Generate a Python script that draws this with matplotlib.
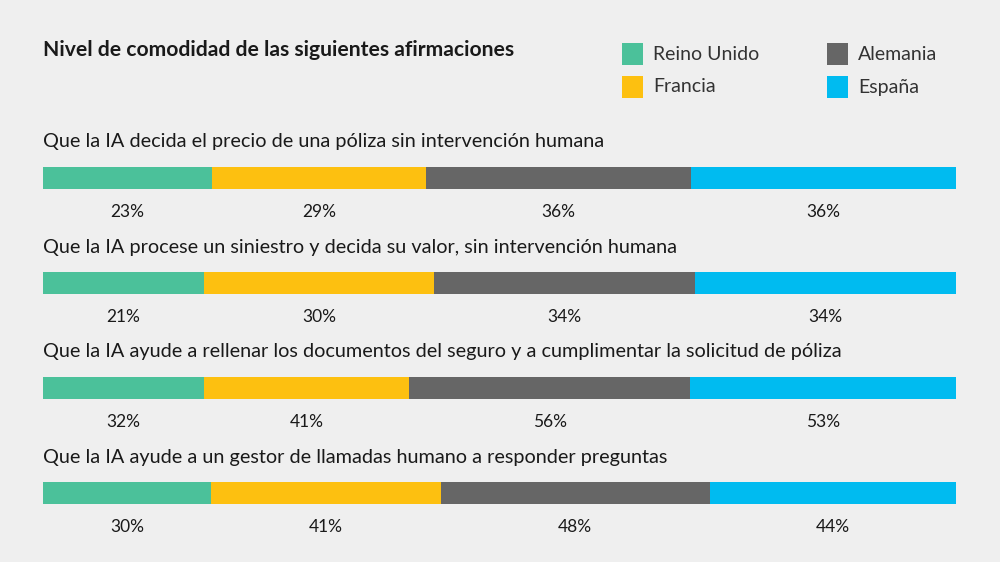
#!/usr/bin/env python3
"""Stacked comfort-level bars for four countries."""

import matplotlib as mpl
import matplotlib.pyplot as plt
import numpy as np

questions = [
    'Que la IA decida el precio de una póliza sin intervención humana',
    'Que la IA procese un siniestro y decida su valor, sin intervención humana',
    'Que la IA ayude a rellenar los documentos del seguro y a cumplimentar '
    'la solicitud de póliza',
    'Que la IA ayude a un gestor de llamadas humano a responder preguntas',
]
countries = ['Reino Unido', 'Francia', 'Alemania', 'España']
reino_unido = [23, 21, 32, 30]
francia = [29, 30, 41, 41]
alemania = [36, 34, 56, 48]
espana = [36, 34, 53, 44]

colors = ['#4bc19a', '#fdc010', '#666666', '#00bbf0']
bg = '#efefef'
txt = '#1a1a1a'

mpl.rc('font', family=['Lato', 'DejaVu Sans'])

W, H = 1000, 562
fig = plt.figure(figsize=(W / 100, H / 100), dpi=100, facecolor=bg)

# axes spans the bar region horizontally, whole height vertically
x0, x1 = 43, 956
row0, step = 178, 105
ax = fig.add_axes([x0 / W, 0, (x1 - x0) / W, 1])
ax.set_facecolor(bg)
ax.set_xlim(0, 1)
ax.set_ylim((H - row0) / step, -row0 / step)
ax.axis('off')

vals = np.array([reino_unido, francia, alemania, espana], dtype=float)
share = vals / vals.sum(axis=0)
left = np.zeros(len(questions))
ypos = np.arange(len(questions))
for k, name in enumerate(countries):
    ax.barh(ypos, share[k], left=left, height=22 / step, color=colors[k],
            linewidth=0)
    for i in range(len(questions)):
        ax.text(left[i] + share[k][i] / 2, ypos[i] + 34 / step,
                '%d%%' % vals[k][i], ha='center', va='center',
                fontsize=12.5, color=txt)
    left += share[k]

for i, q in enumerate(questions):
    ax.text(0, ypos[i] - 36 / step, q, ha='left', va='center',
            fontsize=14.3, color=txt)

fig.text(x0 / W, 1 - 50 / H, 'Nivel de comodidad de las siguientes afirmaciones',
         ha='left', va='center', fontsize=15.2, fontweight='bold', color=txt)

# legend, two columns
leg_pos = [(622, 54), (622, 87), (827, 54), (827, 87)]
for k, name in enumerate(countries):
    lx, ly = leg_pos[k]
    fig.patches.append(mpl.patches.Rectangle(
        (lx / W, 1 - (ly + 10.5) / H), 21 / W, 21 / H,
        transform=fig.transFigure, color=colors[k], linewidth=0))
    fig.text((lx + 31) / W, 1 - ly / H, name, ha='left', va='center',
             fontsize=14, color='#333333')

fig.savefig('out.png', dpi=100, facecolor=bg)
